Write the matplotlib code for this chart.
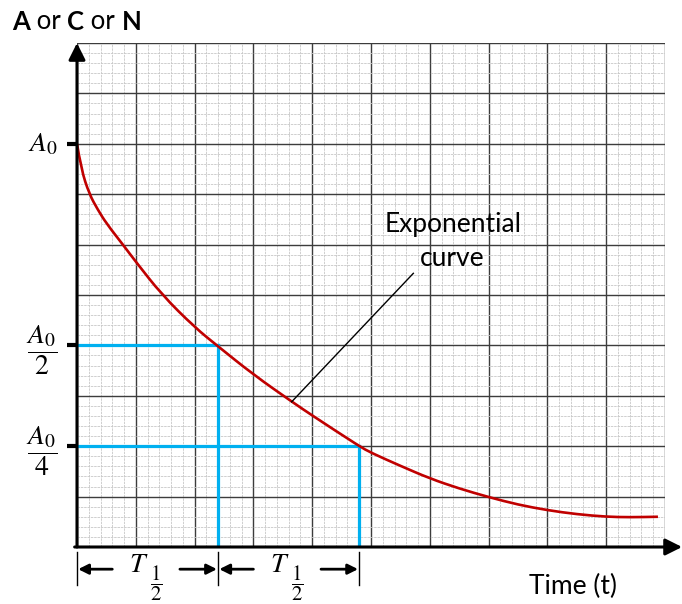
import matplotlib.pyplot as plt
import numpy as np
from matplotlib.path import Path
from matplotlib.patches import PathPatch

plt.rcParams['mathtext.fontset'] = 'stix'
plt.rcParams['font.family'] = ['Lato', 'DejaVu Sans']

# 데이터
t_vals = [0, 0.07, 0.21, 0.35, 0.5, 0.78, 1.0, 1.44, 2.0, 2.4,
          3.0, 3.67, 4.0, 4.8, 5.0, 5.5, 6.0, 6.5, 7.0, 7.5, 8.0, 8.5, 9.0,
          9.4, 9.88]
n_vals = [8.0, 7.5, 7.0, 6.7, 6.42, 6.0, 5.66, 5.01, 4.36, 3.98,
          3.42, 2.87, 2.61, 2.0, 1.87, 1.61, 1.36, 1.16, 0.99, 0.84, 0.73,
          0.65, 0.60, 0.59, 0.60]
A0 = 8.0
t_half = 2.4
y_levels = [A0, A0 / 2, A0 / 4]
y_labels = [r'$A_0$', r'$\dfrac{A_0}{2}$', r'$\dfrac{A_0}{4}$']

W, H = 682, 604
fig = plt.figure(figsize=(W / 100, H / 100), dpi=100)
ax = fig.add_axes([77 / W, (H - 547) / H, 588 / W, 504 / H])
ax.set_xlim(0, 10)
ax.set_ylim(0, 10)
for s in ax.spines.values():
    s.set_visible(False)

# 모눈종이 격자
ax.set_xticks(np.arange(0, 11, 1))
ax.set_yticks(np.arange(0, 11, 1))
ax.set_xticks(np.arange(0, 10.01, 0.2), minor=True)
ax.set_yticks(np.arange(0, 10.01, 0.2), minor=True)
ax.tick_params(which='both', length=0, labelbottom=False, labelleft=False)
ax.grid(which='minor', color='#c8c8c8', lw=0.6, ls=(0, (3, 1)))
ax.grid(which='major', color='#3c3c3c', lw=1.0)
ax.set_axisbelow(True)

# 반감기 선
blue = '#00b0f0'
for k in (1, 2):
    ax.plot([0, k * t_half], [A0 / 2 ** k] * 2, color=blue, lw=2.3, zorder=3)
    ax.plot([k * t_half] * 2, [0, A0 / 2 ** k], color=blue, lw=2.3, zorder=3)

# 지수 곡선 (읽은 점을 2차 베지어로 부드럽게 연결)
pts = np.column_stack([t_vals, n_vals])
verts = [pts[0]]
codes = [Path.MOVETO]
for i in range(1, len(pts) - 1):
    verts += [pts[i], (pts[i] + pts[i + 1]) / 2]
    codes += [Path.CURVE3, Path.CURVE3]
verts.append(pts[-1])
codes.append(Path.LINETO)
ax.add_patch(PathPatch(Path(verts, codes), fill=False, edgecolor='#c00000',
                       lw=1.9, zorder=4))

# 축 화살표
ax.annotate('', xy=(0, 10), xytext=(0, 0), annotation_clip=False,
            arrowprops=dict(arrowstyle='-|>', lw=2.2, color='black',
                            mutation_scale=25, shrinkA=0, shrinkB=0), zorder=6)
ax.annotate('', xy=(10.29, 0), xytext=(-0.04, 0), annotation_clip=False,
            arrowprops=dict(arrowstyle='-|>', lw=2.2, color='black',
                            mutation_scale=25, shrinkA=0, shrinkB=0), zorder=6)

# y축 눈금 및 라벨
for yv in y_levels:
    ax.plot([-0.17, 0], [yv, yv], color='black', lw=3, clip_on=False,
            solid_capstyle='butt', zorder=6)
for yv, lab in zip(y_levels, y_labels):
    if yv == A0:
        ax.text(-0.33, yv, lab, fontsize=20, ha='right', va='center')
    else:
        ax.text(-0.6, yv - 0.1, lab, fontsize=20, ha='center', va='center')

# 시간축 반감기 표시
for k in range(3):
    ax.plot([k * t_half] * 2, [-0.1, -0.76], color='black', lw=1,
            clip_on=False)
for k in range(2):
    x0, x1 = k * t_half, (k + 1) * t_half
    ax.annotate('', xy=(x0 + 0.02, -0.44), xytext=(x0 + 0.6, -0.44),
                annotation_clip=False,
                arrowprops=dict(arrowstyle='-|>', lw=2, color='black',
                                mutation_scale=15, shrinkA=0, shrinkB=0))
    ax.annotate('', xy=(x1 - 0.02, -0.44), xytext=(x1 - 0.65, -0.44),
                annotation_clip=False,
                arrowprops=dict(arrowstyle='-|>', lw=2, color='black',
                                mutation_scale=15, shrinkA=0, shrinkB=0))
    xm = (x0 + x1) / 2
    ax.text(xm + 0.01, -0.34, r'$T$', fontsize=20, ha='right', va='center')
    ax.text(xm + 0.14, -0.33, r'$\dfrac{1}{2}$', fontsize=15, ha='center',
            va='top')

# 주석
ax.plot([3.65, 5.72], [2.88, 5.43], color='black', lw=1, zorder=5)
ax.text(6.39, 6.39, 'Exponential', fontsize=19, ha='center', va='center')
ax.text(6.38, 5.73, 'curve', fontsize=19, ha='center', va='center')
ax.text(8.44, -0.79, 'Time (t)', fontsize=19, ha='center', va='center')

# 제목 (굵은 글씨 혼합)
parts = [('A', 'bold'), (' or ', 'normal'), ('C', 'bold'), (' or ', 'normal'),
         ('N', 'bold')]
prev = fig.text(12 / W, (H - 30) / H, parts[0][0], fontsize=18.5,
                fontweight=parts[0][1], va='baseline')
for txt, wt in parts[1:]:
    prev = ax.annotate(txt, xy=(1, 0), xycoords=prev, fontsize=18.5,
                       fontweight=wt, va='bottom', annotation_clip=False)

fig.savefig('out.png', dpi=100)
